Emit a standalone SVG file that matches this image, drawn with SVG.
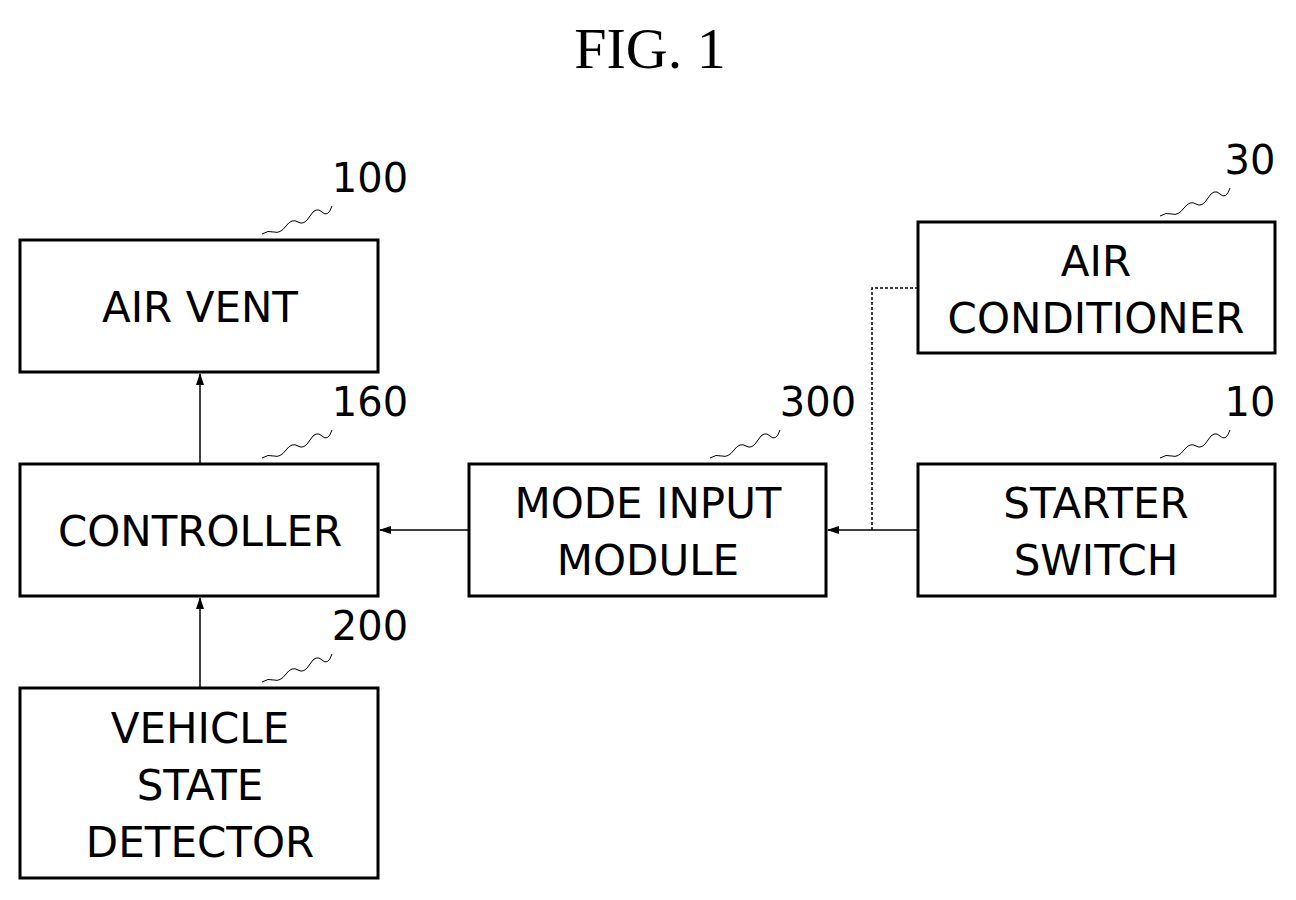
<svg xmlns="http://www.w3.org/2000/svg" width="1296" height="900" viewBox="0 0 1296 900">
<style>
.box{fill:#fff;stroke:#000;stroke-width:3}
.t{font-family:"DejaVu Sans",sans-serif;font-size:42px;text-anchor:middle}
.n{font-family:"DejaVu Sans",sans-serif;font-size:40px;text-anchor:middle}
.c{fill:none;stroke:#000;stroke-width:1.5}
.lead{fill:none;stroke:#000;stroke-width:1}
</style>
<defs><marker id="a" markerWidth="12" markerHeight="10" refX="11" refY="5" orient="auto" markerUnits="userSpaceOnUse"><path d="M0,1 L12,5 L0,9 Z"/></marker></defs>
<rect width="1296" height="900" fill="#fff"/>
<text x="650" y="68" font-family="Liberation Serif,serif" font-size="58" text-anchor="middle">FIG. 1</text>
<g id="connectors">
<line class="c" x1="200" y1="464" x2="200" y2="374" marker-end="url(#a)"/>
<line class="c" x1="200" y1="688" x2="200" y2="598" marker-end="url(#a)"/>
<line class="c" x1="469" y1="530" x2="380" y2="530" marker-end="url(#a)"/>
<line class="c" x1="918" y1="530" x2="828" y2="530" marker-end="url(#a)"/>
<path class="c" d="M918,288 H872 V530" stroke-dasharray="3,2"/>
</g>
<g id="airvent"><rect class="box" x="20" y="240" width="358" height="132"/><text class="t" x="200" y="322">AIR VENT</text></g>
<g id="controller"><rect class="box" x="20" y="464" width="358" height="132"/><text class="t" x="200" y="546">CONTROLLER</text></g>
<g id="detector"><rect class="box" x="20" y="688" width="358" height="190"/><text class="t" x="200" y="743">VEHICLE</text><text class="t" x="200" y="800">STATE</text><text class="t" x="200" y="857">DETECTOR</text></g>
<g id="mode"><rect class="box" x="469" y="464" width="357" height="132"/><text class="t" x="648" y="518">MODE INPUT</text><text class="t" x="648" y="575">MODULE</text></g>
<g id="starter"><rect class="box" x="918" y="464" width="357" height="132"/><text class="t" x="1096" y="518">STARTER</text><text class="t" x="1096" y="575">SWITCH</text></g>
<g id="aircon"><rect class="box" x="918" y="222" width="357" height="131"/><text class="t" x="1096" y="276">AIR</text><text class="t" x="1096" y="333">CONDITIONER</text></g>
<g id="labels">
<text class="n" x="370" y="192">100</text><path class="lead" d="M262,234 q6,-4 12,-2 t12,-6 t12,-4 t12,-6 t12,-4 t10,-6"/>
<text class="n" x="370" y="416">160</text><path class="lead" d="M262,458 q6,-4 12,-2 t12,-6 t12,-4 t12,-6 t12,-4 t10,-6"/>
<text class="n" x="370" y="640">200</text><path class="lead" d="M262,682 q6,-4 12,-2 t12,-6 t12,-4 t12,-6 t12,-4 t10,-6"/>
<text class="n" x="818" y="416">300</text><path class="lead" d="M710,458 q6,-4 12,-2 t12,-6 t12,-4 t12,-6 t12,-4 t10,-6"/>
<text class="n" x="1250" y="174">30</text><path class="lead" d="M1160,216 q6,-4 12,-2 t12,-6 t12,-4 t12,-6 t12,-4 t10,-6"/>
<text class="n" x="1250" y="416">10</text><path class="lead" d="M1160,458 q6,-4 12,-2 t12,-6 t12,-4 t12,-6 t12,-4 t10,-6"/>
</g>
</svg>
